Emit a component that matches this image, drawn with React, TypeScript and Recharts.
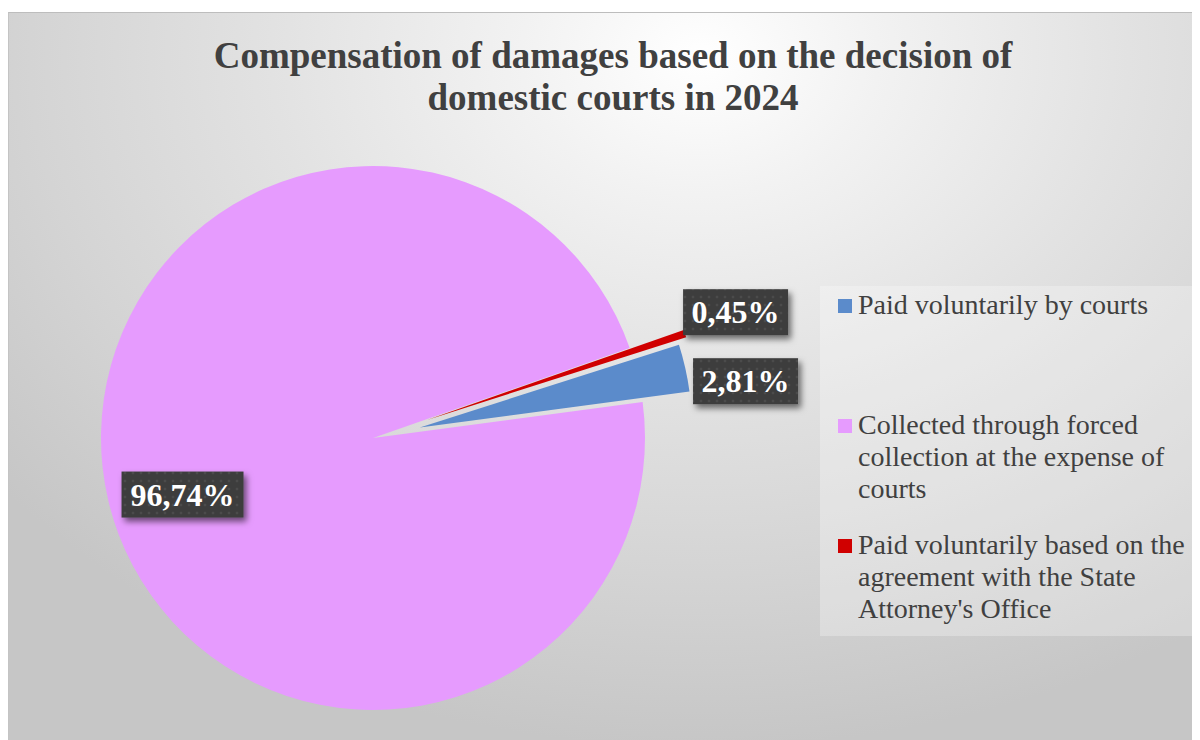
import React from 'react';
import { PieChart, Pie, Cell, Legend, Sector } from 'recharts';

const categories = [
  'Paid voluntarily by courts',
  'Collected through forced collection at the expense of courts',
  "Paid voluntarily based on the agreement with the State Attorney's Office",
];
const shares = [2.81, 96.74, 0.45];
const valueLabels = ['2,81%', '96,74%', '0,45%'];
const colors = ['#5B8BCB', '#E69BFE', '#D00000'];

const data = categories.map((name, i) => ({ name, value: shares[i] }));

const EXPLODE = [48, 0, 57];
const RAD = Math.PI / 180;
const SERIF = '"Liberation Serif", "Times New Roman", serif';

function renderLabel(props: any) {
  const { cx, cy, midAngle, outerRadius, index, percent } = props;
  const half = (percent ?? 0) * 180;
  const startAngle = props.startAngle ?? midAngle + half;
  const endAngle = props.endAngle ?? midAngle - half;
  const d = EXPLODE[index];
  const cosA = Math.cos(-midAngle * RAD);
  const sinA = Math.sin(-midAngle * RAD);
  const ox = cx + d * cosA;
  const oy = cy + d * sinA;
  const text = valueLabels[index];
  const w = text.length * 17 + 20;
  const h = 46;
  let bx: number;
  let by: number;
  if (index === 1) {
    const R = outerRadius * 0.72;
    bx = ox + R * cosA - w / 2;
    by = oy + R * sinA + 11 - h / 2;
  } else if (index === 0) {
    const R = outerRadius + 8;
    bx = ox + R * cosA;
    by = oy + R * sinA + 15 - h / 2;
  } else {
    const R = outerRadius - 2;
    bx = ox + R * cosA;
    by = oy + R * sinA - 22 - h / 2;
  }
  return (
    <g key={`lab-${index}`}>
      <defs>
        <filter id={`shadow-${index}`} x="-30%" y="-30%" width="170%" height="190%">
          <feDropShadow dx="3" dy="4" stdDeviation="3" floodColor="#000" floodOpacity="0.55" />
        </filter>
        <pattern id={`dots-${index}`} width="8" height="8" patternUnits="userSpaceOnUse">
          <rect width="8" height="8" fill="#3d3d3d" />
          <circle cx="4" cy="4" r="1.3" fill="#4c4c4c" />
        </pattern>
      </defs>
      {d > 0 && (
        <Sector
          cx={ox}
          cy={oy}
          innerRadius={0}
          outerRadius={outerRadius}
          startAngle={startAngle}
          endAngle={endAngle}
          fill={colors[index]}
          stroke="none"
        />
      )}
      <rect x={bx} y={by} width={w} height={h} fill={`url(#dots-${index})`} filter={`url(#shadow-${index})`} />
      <text
        x={bx + w / 2}
        y={by + h / 2 + 11}
        textAnchor="middle"
        fill="#ffffff"
        fontFamily={SERIF}
        fontWeight="bold"
        fontSize={32}
      >
        {text}
      </text>
    </g>
  );
}

function renderLegend() {
  return (
    <div
      style={{
        width: 380,
        height: 350,
        boxSizing: 'border-box',
        paddingTop: 3,
        background: 'rgba(255,255,255,0.28)',
        fontFamily: SERIF,
        fontSize: 28,
        lineHeight: '32px',
        color: '#404040',
      }}
    >
      {categories.map((c, i) => (
        <div key={c} style={{ position: 'relative', height: 120 }}>
          <div
            style={{
              position: 'absolute',
              left: 18,
              top: 10,
              width: 14,
              height: 14,
              background: colors[i],
            }}
          />
          <div style={{ position: 'absolute', left: 38, top: 0, width: 340 }}>{c}</div>
        </div>
      ))}
    </div>
  );
}

export default function App() {
  return (
    <div style={{ paddingTop: 4 }}>
      <div
        style={{
          position: 'relative',
          width: 1192,
          height: 728,
          boxSizing: 'border-box',
          borderTop: '1px solid #bdbdbd',
          borderLeft: '1px solid #c4c4c4',
          background:
            'radial-gradient(ellipse 75% 95% at 58% 6%, #ffffff 0%, #f2f2f2 20%, #e2e2e2 48%, #d4d4d4 75%, #c6c6c6 100%)',
        }}
      >
        <div
          style={{
            position: 'absolute',
            left: 0,
            top: 22,
            width: 1208,
            textAlign: 'center',
            fontFamily: SERIF,
            fontWeight: 'bold',
            fontSize: 37,
            lineHeight: '42px',
            color: '#404040',
          }}
        >
          Compensation of damages based on the decision of
          <br />
          domestic courts in 2024
        </div>
        <div style={{ position: 'absolute', left: 0, top: 0 }}>
          <PieChart width={1192} height={728} margin={{ top: 0, right: 0, bottom: 0, left: 0 }}>
            <Pie
              data={data}
              dataKey="value"
              nameKey="name"
              cx={364}
              cy={425}
              outerRadius={272}
              innerRadius={0}
              startAngle={17.7}
              endAngle={-342.3}
              stroke="none"
              label={renderLabel}
              labelLine={false}
              isAnimationActive={false}
            >
              {data.map((e, i) => (
                <Cell key={e.name} fill={EXPLODE[i] > 0 ? 'transparent' : colors[i]} stroke="none" />
              ))}
            </Pie>
            <Legend
              content={renderLegend}
              wrapperStyle={{ left: 811, top: 273, width: 380, height: 350 }}
            />
          </PieChart>
        </div>
      </div>
    </div>
  );
}
